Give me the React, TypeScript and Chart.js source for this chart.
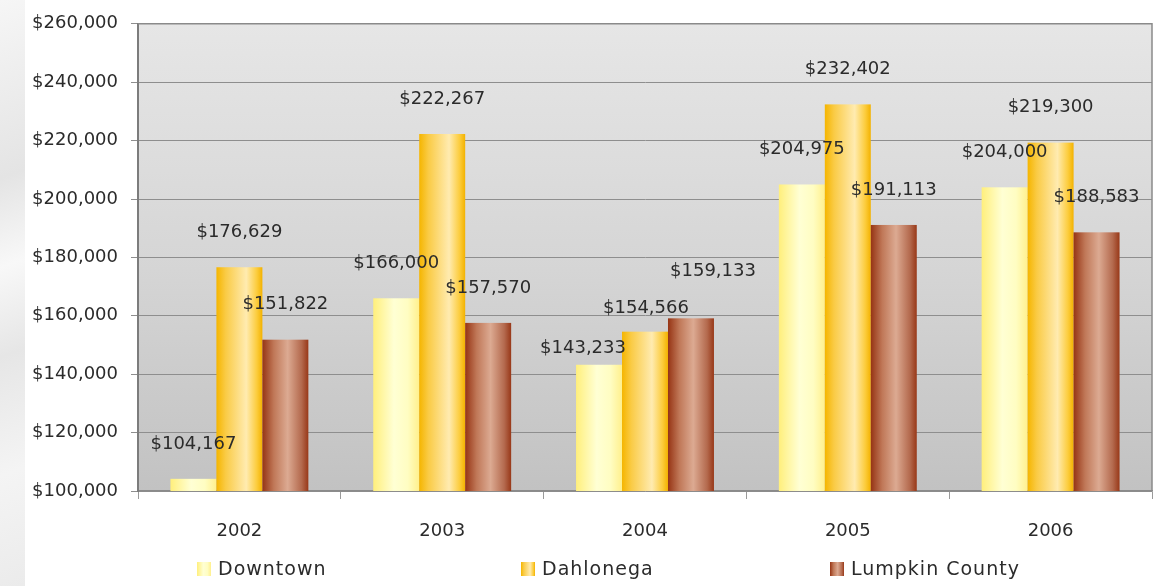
import React, { useEffect, useRef } from "react";
import { Chart, registerables } from "chart.js";

Chart.register(...registerables);

// ---- data ----
const years = ["2002", "2003", "2004", "2005", "2006"];
const seriesNames = ["Downtown", "Dahlonega", "Lumpkin County"];
const downtown = [104167, 166000, 143233, 204975, 204000];
const dahlonega = [176629, 222267, 154566, 232402, 219300];
const lumpkin = [151822, 157570, 159133, 191113, 188583];
const yTicks = [100000, 120000, 140000, 160000, 180000, 200000, 220000, 240000, 260000];

// label nudges (dx, dy in px) relative to default position above each bar
const labelNudgeDowntown = [[0, 0], [0, 0], [-16, 19], [0, 0], [0, 0]];
const labelNudgeDahlonega = [[0, 0], [0, 0], [1, 12], [0, 0], [0, 0]];
const labelNudgeLumpkin = [[0, 0], [0, 0], [22, -12], [0, 0], [0, 0]];

const FONT = "'DejaVu Sans', sans-serif";
const TEXT = "#2b2b2b";

const barStops: [number, string][][] = [
  [[0, "#FFEF7C"], [0.45, "#FFFFD4"], [0.75, "#FFFDC2"], [1, "#FFF08E"]],
  [[0, "#F5B500"], [0.2, "#FACB45"], [0.65, "#FFEBB0"], [0.88, "#FCCC3C"], [1, "#F3B200"]],
  [[0, "#963414"], [0.25, "#C07858"], [0.55, "#DCAA92"], [0.85, "#B46A4E"], [1, "#983818"]],
];
const solidColors = ["rgba(0,0,0,0)", "rgba(0,0,0,0)", "rgba(0,0,0,0)"];

function makeGrad(ctx: CanvasRenderingContext2D, x0: number, x1: number, stops: [number, string][]) {
  const g = ctx.createLinearGradient(x0, 0, x1, 0);
  stops.forEach(([o, c]) => g.addColorStop(o, c));
  return g;
}

const fmt = (v: number) => "$" + v.toLocaleString("en-US");

const plotBgPlugin = {
  id: "plotBg",
  beforeDraw(chart: any) {
    const { ctx, chartArea: a } = chart;
    ctx.save();
    const g = ctx.createLinearGradient(0, a.top, 0, a.bottom);
    g.addColorStop(0, "#e6e6e6");
    g.addColorStop(0.5, "#d6d6d6");
    g.addColorStop(1, "#c2c2c2");
    ctx.fillStyle = g;
    ctx.fillRect(a.left, a.top, a.right - a.left, a.bottom - a.top);
    ctx.restore();
  },
  afterDraw(chart: any) {
    const { ctx, chartArea: a } = chart;
    ctx.save();
    ctx.strokeStyle = "#8a8a8a";
    ctx.lineWidth = 1.5;
    ctx.beginPath();
    ctx.moveTo(a.left, a.top);
    ctx.lineTo(a.right, a.top);
    ctx.lineTo(a.right, a.bottom);
    ctx.stroke();
    ctx.restore();
  },
};

const nudges = [labelNudgeDowntown, labelNudgeDahlonega, labelNudgeLumpkin];

const barsAndLabelsPlugin = {
  id: "barsAndLabels",
  afterDatasetsDraw(chart: any) {
    const ctx: CanvasRenderingContext2D = chart.ctx;
    const a = chart.chartArea;
    ctx.save();
    ctx.beginPath();
    ctx.rect(a.left, a.top, a.right - a.left, a.bottom - a.top);
    ctx.clip();
    chart.data.datasets.forEach((ds: any, i: number) => {
      const meta = chart.getDatasetMeta(i);
      meta.data.forEach((el: any) => {
        const { x, y, base, width } = el.getProps(["x", "y", "base", "width"], true);
        const x0 = x - width / 2;
        ctx.fillStyle = makeGrad(ctx, x0, x0 + width, barStops[i]);
        ctx.fillRect(x0, y, width, base - y);
      });
    });
    ctx.restore();
    ctx.save();
    ctx.font = `18px ${FONT}`;
    ctx.fillStyle = TEXT;
    ctx.textAlign = "center";
    ctx.textBaseline = "middle";
    chart.data.datasets.forEach((ds: any, i: number) => {
      const meta = chart.getDatasetMeta(i);
      meta.data.forEach((el: any, j: number) => {
        const { x, y } = el.getProps(["x", "y"], true);
        const [dx, dy] = nudges[i][j];
        ctx.fillText(fmt(ds.data[j]), x + dx, y - 35 + dy);
      });
    });
    ctx.restore();
  },
};

const legendXs = [197, 521, 830];
const legendPlugin = {
  id: "customLegend",
  afterDraw(chart: any) {
    const ctx: CanvasRenderingContext2D = chart.ctx;
    ctx.save();
    const cy = 569;
    ctx.font = `19px ${FONT}`;
    (ctx as any).letterSpacing = "1px";
    ctx.textAlign = "left";
    ctx.textBaseline = "middle";
    seriesNames.forEach((name, i) => {
      const bx = legendXs[i];
      ctx.fillStyle = makeGrad(ctx, bx, bx + 14, barStops[i]);
      ctx.fillRect(bx, cy - 7, 14, 14);
      ctx.fillStyle = TEXT;
      ctx.fillText(name, bx + 21, cy + 1);
    });
    ctx.restore();
  },
};

export default function App() {
  const ref = useRef<HTMLCanvasElement | null>(null);
  useEffect(() => {
    if (!ref.current) return;
    Chart.defaults.font.family = FONT;
    const chart = new Chart(ref.current, {
      type: "bar",
      data: {
        labels: years,
        datasets: [
          { label: seriesNames[0], data: downtown, backgroundColor: solidColors[0] },
          { label: seriesNames[1], data: dahlonega, backgroundColor: solidColors[1] },
          { label: seriesNames[2], data: lumpkin, backgroundColor: solidColors[2] },
        ],
      },
      options: {
        animation: false,
        responsive: false,
        maintainAspectRatio: false,
        layout: { padding: { left: 0, right: 4, top: 22, bottom: 0 } },
        datasets: { bar: { categoryPercentage: 0.68, barPercentage: 1.0, borderWidth: 0 } },
        plugins: { legend: { display: false }, tooltip: { enabled: false } },
        scales: {
          x: {
            grid: { drawOnChartArea: false, tickLength: 8, color: "#9a9a9a", offset: true },
            border: { display: true, color: "#8a8a8a", width: 1.5 },
            ticks: { color: TEXT, font: { size: 18, family: FONT }, padding: 22 },
            afterFit: (s: any) => { s.height = 95; },
          },
          y: {
            min: yTicks[0],
            max: yTicks[yTicks.length - 1],
            ticks: {
              stepSize: yTicks[1] - yTicks[0],
              color: TEXT,
              font: { size: 18, family: FONT },
              padding: 13,
              callback: (v: any) => fmt(Number(v)),
            },
            grid: { color: "#8e8e8e", lineWidth: 1, tickLength: 7 },
            border: { display: true, color: "#7c7c7c", width: 2 },
            afterFit: (s: any) => { s.width = 138; },
          },
        },
      },
      plugins: [plotBgPlugin, barsAndLabelsPlugin, legendPlugin],
    });
    return () => chart.destroy();
  }, []);

  return (
    <div style={{ position: "fixed", left: 0, top: 0, width: 1156, height: 586, background: "#ffffff" }}>
      <div
        style={{
          position: "absolute",
          left: 0,
          top: 0,
          width: 25,
          height: 586,
          background: "linear-gradient(160deg, #f6f6f6 0%, #e4e4e4 30%, #f8f8f8 45%, #e6e6e6 60%, #f4f4f4 80%, #ebebeb 100%)",
        }}
      />
      <canvas ref={ref} width={1156} height={586} style={{ position: "absolute", left: 0, top: 0 }} />
    </div>
  );
}
